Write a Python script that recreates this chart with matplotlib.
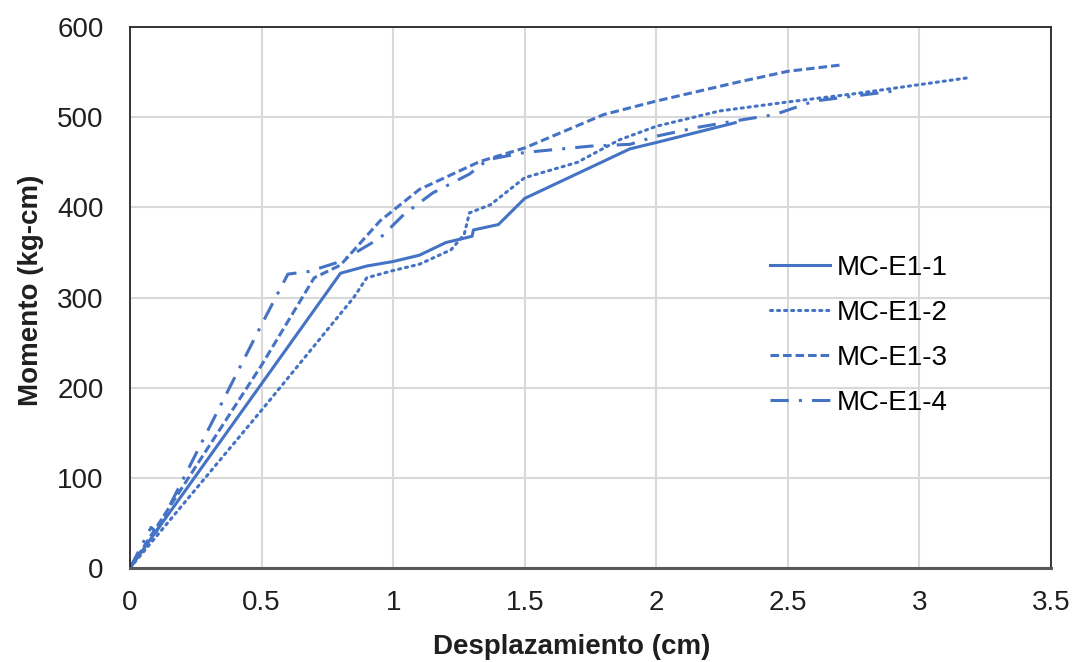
import numpy as np
import matplotlib.pyplot as plt

plt.rcParams['font.family'] = ['Liberation Sans', 'DejaVu Sans']

## data
x1 = [0, 0.8, 0.9, 1.0, 1.1, 1.2, 1.3, 1.305, 1.4, 1.5, 1.9, 2.0, 2.3]
y1 = [0, 327, 335, 340, 347, 361, 368, 375, 381, 410, 465, 472, 494]

x2 = [0, 0.5, 0.85, 0.9, 1.0, 1.1, 1.22, 1.27, 1.29, 1.37, 1.5, 1.7, 1.86, 2.0, 2.24, 2.5, 2.75, 3.19]
y2 = [0, 175, 300, 322, 330, 337, 353, 370, 394, 403, 433, 450, 475, 490, 507, 517, 526, 544]

x3 = [0, 0.5, 0.7, 0.8, 0.95, 1.1, 1.33, 1.5, 1.8, 2.0, 2.31, 2.5, 2.7]
y3 = [0, 225, 322, 336, 385, 420, 451, 466, 503, 518, 539, 551, 558]

x4 = [0, 0.08, 0.1, 0.5, 0.6, 0.68, 0.8, 0.95, 1.04, 1.15, 1.29, 1.36, 1.5, 1.75, 1.9, 2.0, 2.16, 2.3, 2.45, 2.6, 2.9]
y4 = [0, 45, 40, 270, 326, 329, 340, 366, 392, 416, 437, 453, 461, 468, 470, 479, 489, 496, 503, 518, 529]

names = ["MC-E1-1", "MC-E1-2", "MC-E1-3", "MC-E1-4"]

col = "#4472C4"
txt = "#1f1f1f"

fig = plt.figure(figsize=(10.76, 6.62), dpi=100)
ax = fig.add_axes([0.1208, 0.142, 0.856, 0.817])

ax.plot(x1, y1, color=col, lw=2.2, label=names[0])
ax.plot(x2, y2, color=col, lw=2.2, linestyle=(0, (0.7, 1.6)), dash_capstyle='round', label=names[1])
ax.plot(x3, y3, color=col, lw=2.2, linestyle=(0, (2.8, 1.3)), label=names[2])
ax.plot(x4, y4, color=col, lw=2.2, linestyle=(0, (6, 3.3, 1, 3.3)), label=names[3])

ax.set_xlim(0, 3.5)
ax.set_ylim(0, 600)
ax.set_xticks(np.arange(0, 3.51, 0.5))
ax.set_xticklabels(["0", "0.5", "1", "1.5", "2", "2.5", "3", "3.5"])
ax.set_yticks(np.arange(0, 601, 100))
ax.grid(True, color="#D9D9D9", lw=1.5)
ax.set_axisbelow(True)
ax.tick_params(length=0, labelsize=20, colors=txt)
ax.tick_params(axis="y", pad=19)
ax.tick_params(axis="x", pad=16)

for s in ["left", "top", "right"]:
    ax.spines[s].set_color("#262626")
    ax.spines[s].set_linewidth(1.3)
ax.spines["bottom"].set_color("#595959")
ax.spines["bottom"].set_linewidth(2.2)

ax.set_xlabel("Desplazamiento (cm)", fontsize=20, fontweight="bold", color=txt)
ax.set_ylabel("Momento (kg-cm)", fontsize=20, fontweight="bold", color=txt)
ax.xaxis.set_label_coords(0.48, -0.122)
ax.yaxis.set_label_coords(-0.093, 0.514)

ax.legend(loc="center left", bbox_to_anchor=(0.668, 0.43), frameon=False, fontsize=20,
          handlelength=2.15, handletextpad=0.25, labelspacing=0.68)

plt.savefig("out.png", dpi=100)
